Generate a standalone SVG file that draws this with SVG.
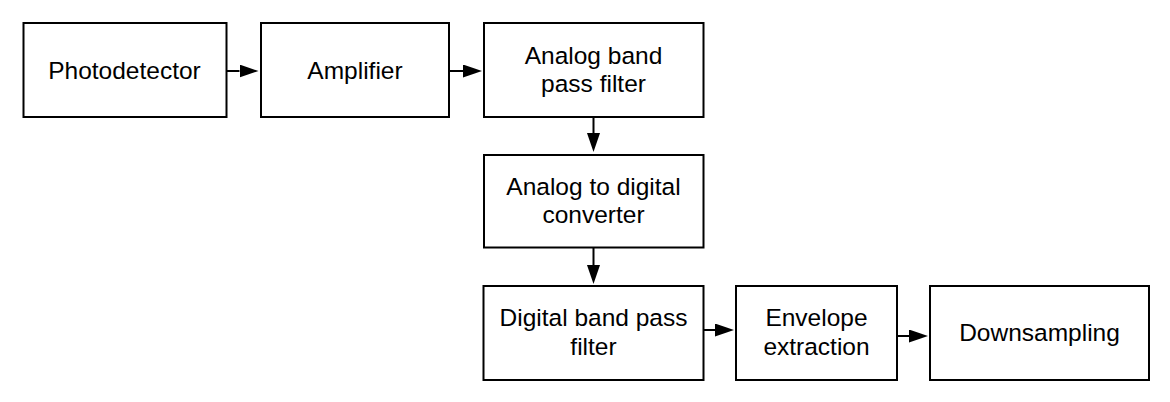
<svg xmlns="http://www.w3.org/2000/svg" width="1170" height="402" viewBox="0 0 1170 402">
  <style>
    .box { fill: #ffffff; stroke: #000000; stroke-width: 2; }
    .lbl { font-family: "Liberation Sans", Arial, sans-serif; font-size: 24.5px; fill: #000000; text-anchor: middle; }
    .conn { stroke: #000000; stroke-width: 2; fill: none; }
  </style>
  <defs>
    <marker id="ah" viewBox="0 0 19 13" refX="0" refY="6.5" markerWidth="19" markerHeight="13" markerUnits="userSpaceOnUse" orient="auto">
      <path d="M0,0 L19,6.5 L0,13 Z" fill="#000000"/>
    </marker>
  </defs>
  <rect width="1170" height="402" fill="#ffffff"/>
  <g id="photodetector">
    <rect class="box" x="23.5" y="23" width="203" height="94"/>
    <text class="lbl" x="124.5" y="79">Photodetector</text>
  </g>
  <g id="amplifier">
    <rect class="box" x="261" y="23" width="188" height="94"/>
    <text class="lbl" x="355" y="79">Amplifier</text>
  </g>
  <g id="analog-bpf">
    <rect class="box" x="484" y="23" width="219.5" height="94"/>
    <text class="lbl" x="593.5" y="64">Analog band</text>
    <text class="lbl" x="593.5" y="92">pass filter</text>
  </g>
  <g id="adc">
    <rect class="box" x="484" y="155" width="219.5" height="92.5"/>
    <text class="lbl" x="593.5" y="195">Analog to digital</text>
    <text class="lbl" x="593.5" y="223">converter</text>
  </g>
  <g id="digital-bpf">
    <rect class="box" x="483.5" y="286" width="220" height="94"/>
    <text class="lbl" x="593.5" y="326">Digital band pass</text>
    <text class="lbl" x="593.5" y="355">filter</text>
  </g>
  <g id="envelope">
    <rect class="box" x="736" y="286" width="161" height="94"/>
    <text class="lbl" x="816.5" y="326">Envelope</text>
    <text class="lbl" x="816.5" y="355">extraction</text>
  </g>
  <g id="downsampling">
    <rect class="box" x="930" y="286" width="219" height="94"/>
    <text class="lbl" x="1039.5" y="341">Downsampling</text>
  </g>
  <g id="connectors">
    <line class="conn" x1="227" y1="71" x2="239.5" y2="71" marker-end="url(#ah)"/>
    <line class="conn" x1="450" y1="71" x2="463" y2="71" marker-end="url(#ah)"/>
    <line class="conn" x1="593.5" y1="117" x2="593.5" y2="133" marker-end="url(#ah)"/>
    <line class="conn" x1="593.5" y1="248" x2="593.5" y2="265" marker-end="url(#ah)"/>
    <line class="conn" x1="704" y1="330" x2="715" y2="330" marker-end="url(#ah)"/>
    <line class="conn" x1="898" y1="336" x2="909" y2="336" marker-end="url(#ah)"/>
  </g>
</svg>
